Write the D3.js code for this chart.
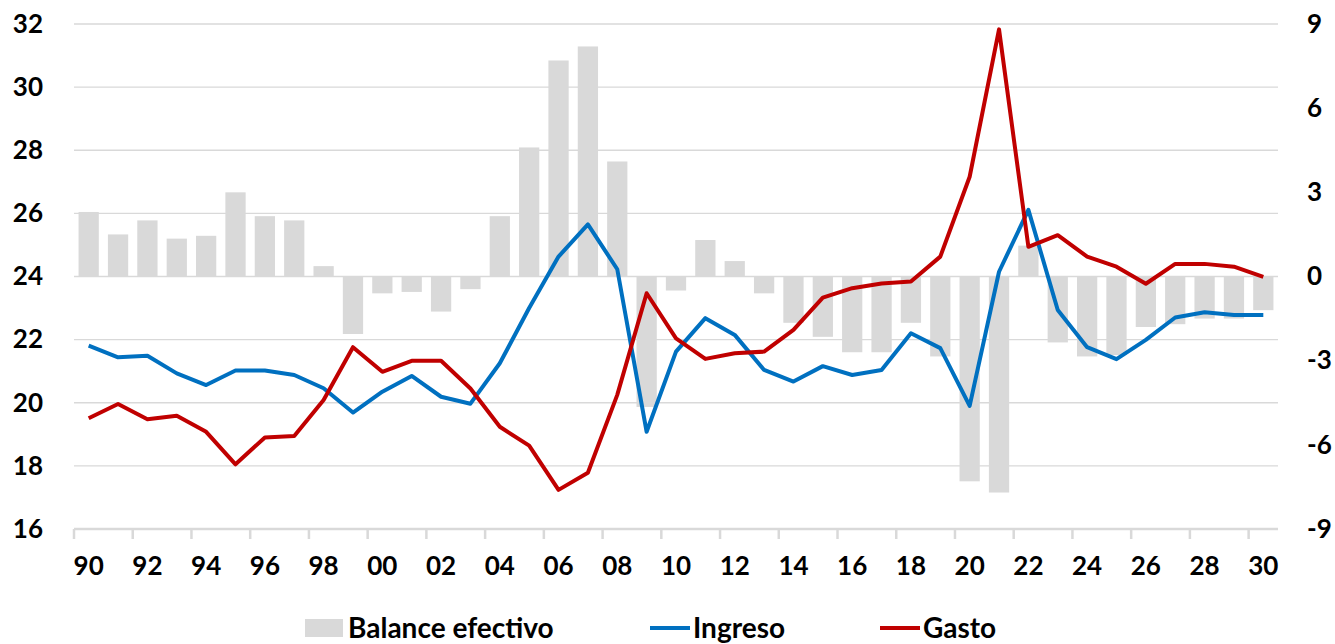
<!DOCTYPE html>
<html>
<head>
<meta charset="utf-8">
<script src="https://cdn.jsdelivr.net/npm/d3@7"></script>
<style>
  body { margin: 0; background: #fff; }
  text { font-family: Lato, "Open Sans", sans-serif; font-weight: bold; fill: #000; }
</style>
</head>
<body>
<div id="chart"></div>
<script>
var svgWidth = 1335;
var svgHeight = 644;

// categories
var years = [1990, 1991, 1992, 1993, 1994, 1995, 1996, 1997, 1998, 1999,
    2000, 2001, 2002, 2003, 2004, 2005, 2006, 2007, 2008, 2009,
    2010, 2011, 2012, 2013, 2014, 2015, 2016, 2017, 2018, 2019,
    2020, 2021, 2022, 2023, 2024, 2025, 2026, 2027, 2028, 2029, 2030];

// Balance efectivo (right axis)
var balance = [2.3, 1.5, 2.0, 1.35, 1.45, 3.0, 2.15, 2.0, 0.37, -2.05,
    -0.6, -0.55, -1.25, -0.45, 2.15, 4.6, 7.7, 8.2, 4.1, -4.65,
    -0.5, 1.3, 0.55, -0.6, -1.65, -2.15, -2.7, -2.7, -1.65, -2.85,
    -7.3, -7.7, 1.1, -2.35, -2.85, -2.8, -1.8, -1.7, -1.5, -1.5, -1.2];

// Ingreso (left axis)
var ingreso = [21.81, 21.44, 21.49, 20.93, 20.56, 21.02, 21.02, 20.88, 20.46, 19.69,
    20.35, 20.85, 20.19, 19.97, 21.25, 23.0, 24.63, 25.65, 24.23, 19.08,
    21.62, 22.68, 22.15, 21.04, 20.67, 21.16, 20.88, 21.04, 22.2, 21.73,
    19.9, 24.15, 26.11, 22.94, 21.76, 21.38, 21.99, 22.7, 22.87, 22.78, 22.78];

// Gasto (left axis)
var gasto = [19.51, 19.96, 19.48, 19.59, 19.08, 18.05, 18.9, 18.95, 20.09, 21.76,
    20.98, 21.33, 21.33, 20.45, 19.24, 18.64, 17.24, 17.78, 20.25, 23.47,
    22.04, 21.39, 21.57, 21.62, 22.31, 23.33, 23.63, 23.78, 23.84, 24.63,
    27.16, 31.83, 24.94, 25.31, 24.63, 24.31, 23.77, 24.4, 24.4, 24.31, 23.99];

// tick labels
var leftTicks = [16, 18, 20, 22, 24, 26, 28, 30, 32];
var rightTicks = [-9, -6, -3, 0, 3, 6, 9];
var labelYears = [1990, 1992, 1994, 1996, 1998, 2000, 2002, 2004, 2006, 2008, 2010,
    2012, 2014, 2016, 2018, 2020, 2022, 2024, 2026, 2028, 2030];

var legendItems = ["Balance efectivo", "Ingreso", "Gasto"];

var margin = { top: 24, right: 57, bottom: 115, left: 74 };
var width = svgWidth - margin.left - margin.right;
var height = svgHeight - margin.top - margin.bottom;

var svg = d3.select("#chart")
    .append("svg")
    .attr("width", svgWidth)
    .attr("height", svgHeight);

var chartGroup = svg.append("g")
    .attr("transform", `translate(${margin.left}, ${margin.top})`);

// scales
var xScale = d3.scaleBand()
    .domain(years)
    .range([0, width])
    .padding(0);

var barW = xScale.bandwidth() * 0.69;

var yLeft = d3.scaleLinear()
    .domain([16, 32])
    .range([height, 0]);

var yRight = d3.scaleLinear()
    .domain([-9, 9])
    .range([height, 0]);

var xc = d => xScale(d) + xScale.bandwidth() / 2;

// gridlines
chartGroup.append("g")
    .selectAll("line")
    .data(leftTicks.slice(1))
    .enter()
    .append("line")
    .attr("x1", 0)
    .attr("x2", width)
    .attr("y1", d => yLeft(d))
    .attr("y2", d => yLeft(d))
    .attr("stroke", "#d9d9d9")
    .attr("stroke-width", 1.3);

// bars
chartGroup.append("g")
    .selectAll("rect")
    .data(years)
    .enter()
    .append("rect")
    .attr("x", d => xc(d) - barW / 2)
    .attr("width", barW)
    .attr("y", (d, i) => yRight(Math.max(0, balance[i])))
    .attr("height", (d, i) => Math.abs(yRight(balance[i]) - yRight(0)))
    .attr("fill", "#d9d9d9");

// bottom axis line + ticks at category boundaries
chartGroup.append("line")
    .attr("x1", 0)
    .attr("x2", width)
    .attr("y1", height)
    .attr("y2", height)
    .attr("stroke", "#d9d9d9")
    .attr("stroke-width", 2.5);

chartGroup.append("g")
    .selectAll("line")
    .data(labelYears)
    .enter()
    .append("line")
    .attr("x1", d => xScale(d))
    .attr("x2", d => xScale(d))
    .attr("y1", height)
    .attr("y2", height + 10)
    .attr("stroke", "#d9d9d9")
    .attr("stroke-width", 2.5);

// lines
var lineLeft = d3.line()
    .x((d, i) => xc(years[i]))
    .y(d => yLeft(d));

chartGroup.append("path")
    .datum(ingreso)
    .attr("d", lineLeft)
    .attr("fill", "none")
    .attr("stroke", "#0070c0")
    .attr("stroke-width", 4)
    .attr("stroke-linejoin", "round");

chartGroup.append("path")
    .datum(gasto)
    .attr("d", lineLeft)
    .attr("fill", "none")
    .attr("stroke", "#c00000")
    .attr("stroke-width", 4)
    .attr("stroke-linejoin", "round");

// axes
var bottomAxis = d3.axisBottom(xScale)
    .tickValues(labelYears)
    .tickFormat(d => String(d).slice(2))
    .tickSize(0)
    .tickPadding(28);

var leftAxis = d3.axisLeft(yLeft)
    .tickValues(leftTicks)
    .tickSize(0)
    .tickPadding(31);

// plain hyphen for negatives, like the original
var rightAxis = d3.axisRight(yRight)
    .tickValues(rightTicks)
    .tickFormat(d => String(d))
    .tickSize(0)
    .tickPadding(29);

var xAxisG = chartGroup.append("g")
    .attr("transform", `translate(0, ${height})`)
    .call(bottomAxis);

var leftG = chartGroup.append("g").call(leftAxis);

var rightG = chartGroup.append("g")
    .attr("transform", `translate(${width}, 0)`)
    .call(rightAxis);

[xAxisG, leftG, rightG].forEach(function (g) {
    g.select(".domain").remove();
    g.selectAll("text")
        .attr("font-size", "26px")
        .attr("font-family", "Lato, sans-serif")
        .attr("font-weight", "bold")
        .attr("fill", "#000");
});

// legend
var legend = svg.append("g");
var legendY = 628;

legend.append("rect")
    .attr("x", 305)
    .attr("y", legendY - 9)
    .attr("width", 38)
    .attr("height", 18)
    .attr("fill", "#d9d9d9");

legend.append("line")
    .attr("x1", 650).attr("x2", 690)
    .attr("y1", legendY).attr("y2", legendY)
    .attr("stroke", "#0070c0")
    .attr("stroke-width", 4);

legend.append("line")
    .attr("x1", 880).attr("x2", 920)
    .attr("y1", legendY).attr("y2", legendY)
    .attr("stroke", "#c00000")
    .attr("stroke-width", 4);

var legendX = [348, 693, 923];
legend.selectAll("text")
    .data(legendItems)
    .enter()
    .append("text")
    .attr("x", (d, i) => legendX[i])
    .attr("y", legendY)
    .attr("dy", "0.35em")
    .attr("font-size", "28px")
    .text(d => d);
</script>
</body>
</html>
